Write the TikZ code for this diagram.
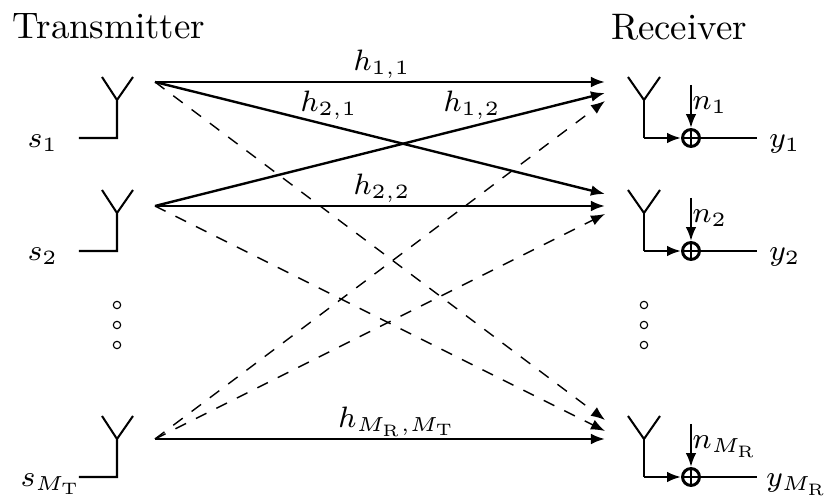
\RequirePackage{fix-cm}
\documentclass[tikz,border=0pt]{standalone}
\usepackage{fontspec}
\setmainfont{Latin Modern Roman}
\usetikzlibrary{arrows.meta}
\DeclareMathSizes{8}{8}{5.5}{4.5}
\tikzset{
  wire/.style={line width=0.55pt},
  conn/.style={line width=0.65pt,-{Latex[length=3.8pt,width=2.9pt]}},
  dconn/.style={line width=0.38pt,dash pattern=on 3.2pt off 3pt,-{Latex[length=3.8pt,width=2.9pt]}},
  lab/.style={inner sep=0pt,anchor=base,font=\fontsize{8}{10}\selectfont},
  ttl/.style={inner sep=0pt,anchor=base},
  sumnode/.style={circle,draw,line width=0.8pt,minimum size=4.6pt,inner sep=0pt,path picture={\draw[line width=0.55pt] (path picture bounding box.north)--(path picture bounding box.south) (path picture bounding box.west)--(path picture bounding box.east);}},
  dot/.style={circle,draw,line width=0.3pt,minimum size=2pt,inner sep=0pt}
}
\begin{document}
\begin{tikzpicture}[x=0.271pt,y=-0.271pt]
\useasboundingbox (0,0) rectangle (825,499);
\node[ttl] (title1) at (109,39) {Transmitter};
\node[ttl] (title2) at (679,40) {Receiver};
% antennas; tips, feed and corner heights for each branch
\foreach \n/\tip/\feed/\yc in {1/77/82/138,2/190/206/251,3/416/439/477}{
    \coordinate (t\n) at (155,\feed);
    \coordinate (r\n) at (605,\feed);
    \coordinate (ts\n) at (79,\yc);
    \draw[wire] (102,\tip) -- (117,\tip+23) -- (133,\tip) (117,\tip+23) -- (117,\yc) -- (ts\n);
    \draw[wire] (628,\tip) -- (644,\tip+23) -- (660,\tip);
    \node[sumnode] (sum\n) at (691,\yc) {};
    \coordinate (corner\n) at (644,\yc);
    \coordinate (top\n) at (644,\tip+23);
    \coordinate (nin\n) at (691,\yc-53);
    \coordinate (out\n) at (757,\yc);
    \draw[wire] (top\n) -- (corner\n);
    \draw[conn] (corner\n) -- (sum\n);
    \draw[conn] (nin\n) -- (sum\n);
    \draw[wire] (sum\n) -- (out\n);
}
% labels
\node[lab] (s1) at (43,148) {$s_1$};
\node[lab] (s2) at (43,261) {$s_2$};
\node[lab] (s3) at (51,487) {$s_{M_{\mathrm T}}$};
\node[lab] (y1) at (785,148) {$y_1$};
\node[lab] (y2) at (785,261) {$y_2$};
\node[lab] (y3) at (797,487) {$y_{M_{\mathrm R}}$};
\node[lab] (n1) at (710,110) {$n_1$};
\node[lab] (n2) at (710,223) {$n_2$};
\node[lab] (n3) at (725,449) {$n_{M_{\mathrm R}}$};
\node[lab] (h11) at (382,71) {$h_{1,1}$};
\node[lab] (h21) at (329,112) {$h_{2,1}$};
\node[lab] (h12) at (472,112) {$h_{1,2}$};
\node[lab] (h22) at (382,195) {$h_{2,2}$};
\node[lab] (hm) at (397,428) {$h_{M_{\mathrm R},M_{\mathrm T}}$};
% connectors
\coordinate (e12) at (605,194);
\coordinate (e21) at (605,93);
\coordinate (e31) at (605,101);
\coordinate (e32) at (605,214);
\coordinate (e13) at (605,420);
\coordinate (e23) at (605,431);
\draw[conn] (t1) -- (r1);
\draw[conn] (t2) -- (r2);
\draw[conn] (t3) -- (r3);
\draw[conn] (t1) -- (e12);
\draw[conn] (t2) -- (e21);
\draw[dconn] (t3) -- (e31);
\draw[dconn] (t3) -- (e32);
\draw[dconn] (t1) -- (e13);
\draw[dconn] (t2) -- (e23);
% dots
\foreach \x/\p in {117/a,644/b}{
  \foreach \y/\q in {305/1,325/2,345/3}{
    \node[dot] (d\p\q) at (\x,\y) {};
  }
}
\end{tikzpicture}
\end{document}
